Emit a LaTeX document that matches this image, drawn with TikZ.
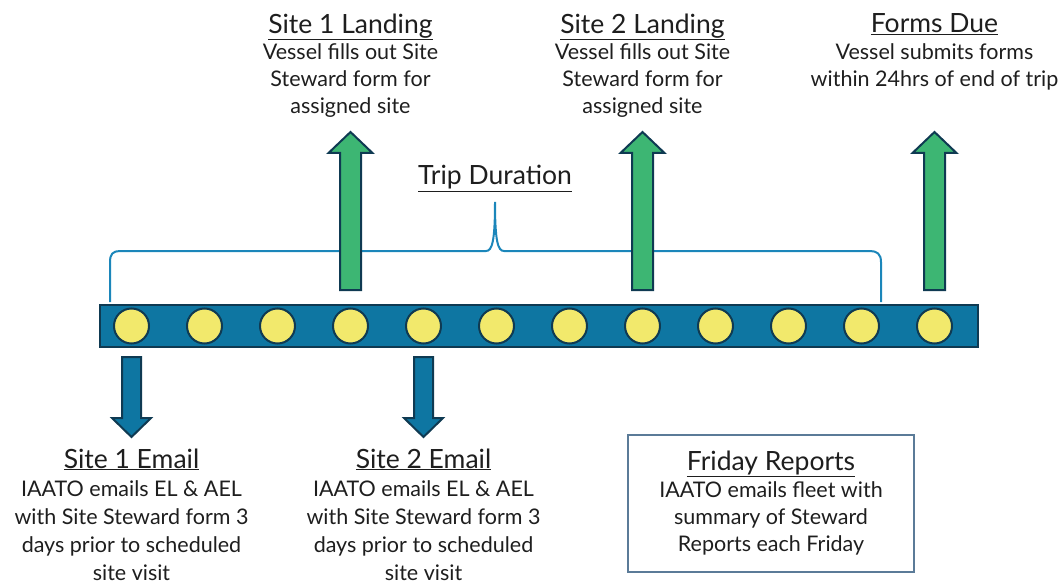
\documentclass[tikz,border=0pt]{standalone}
\usepackage{fontspec}
\setmainfont{Lato}
\usetikzlibrary{calc}
\definecolor{barblue}{HTML}{0E76A2}
\definecolor{navy}{HTML}{0F3A52}
\definecolor{dotyellow}{HTML}{F2E96C}
\definecolor{leafgreen}{HTML}{3DB673}
\definecolor{braceblue}{HTML}{1B86BA}
\definecolor{boxedge}{HTML}{5B7B98}
\definecolor{ink}{HTML}{1E1E1E}
\newcommand{\headline}[1]{{\fontsize{26.5}{27}\selectfont\underline{#1}}}
\begin{document}
\begin{tikzpicture}[x=1pt,y=-1pt,
  dot/.style={circle,draw=navy,line width=2pt,fill=dotyellow,minimum size=35pt,inner sep=0pt},
  timeline/.style={rectangle,draw=navy,line width=2pt,fill=barblue,minimum width=878pt,minimum height=42pt,inner sep=0pt},
  % multi-line labels are anchored at the baseline of their last line
  toptext/.style={align=center,text=ink,inner sep=0pt,anchor=base,font=\fontsize{21.5}{27}\selectfont},
  bottext/.style={align=center,text=ink,inner sep=0pt,anchor=base,font=\fontsize{21.5}{28}\selectfont},
  uparrow/.pic={\draw[navy,line width=2pt,fill=leafgreen,line join=miter]
     (-10.5,0) -- (-10.5,-137) -- (-22,-137) -- (0,-158) -- (22,-137) -- (10.5,-137) -- (10.5,0) -- cycle;},
  downarrow/.pic={\draw[navy,line width=2pt,fill=barblue,line join=miter]
     (-9.5,0) -- (-9.5,61) -- (-19.5,61) -- (0,80) -- (19.5,61) -- (9.5,61) -- (9.5,0) -- cycle;}
]
\useasboundingbox (0,0) rectangle (1061,583);

% timeline bar and its stops
\node[timeline] (bar) at (539,326) {};
\foreach \i in {1,...,12}
  \node[dot] (c\i) at ({131.5+73*(\i-1)},326) {};

% trip duration brace
\draw[braceblue,line width=2pt]
  (110,302) -- (110,262) .. controls (110,254) and (113,251) .. (120,251)
  -- (486,251) .. controls (492,251) and (495,242) .. (495,202)
  .. controls (495,242) and (498,251) .. (504,251)
  -- (870,251) .. controls (877,251) and (881,254) .. (881,262) -- (881,302);
\node[toptext] (trip) at (495,185) {\headline{Trip Duration}};

% events above the timeline
\pic at ($(c4.center)+(0,-36)$) {uparrow};
\pic at ($(c8.center)+(0,-36)$) {uparrow};
\pic at ($(c12.center)+(0,-36)$) {uparrow};

\node[toptext] (land1) at ($(c4.center |- 0,114)$)
  {\headline{Site 1 Landing}\\Vessel fills out Site\\Steward form for\\assigned site};
\node[toptext] (land2) at ($(c8.center |- 0,114)$)
  {\headline{Site 2 Landing}\\Vessel fills out Site\\Steward form for\\assigned site};
\node[toptext] (due) at ($(c12.center |- 0,87)$)
  {\headline{Forms Due}\\Vessel submits forms\\within 24hrs of end of trip};

% events below the timeline
\pic at ($(c1.center)+(0,31)$) {downarrow};
\pic at ($(c5.center)+(0,31)$) {downarrow};

\node[bottext] (mail1) at ($(c1.center |- 0,580)$)
  {\headline{Site 1 Email}\\IAATO emails EL \& AEL\\with Site Steward form 3\\days prior to scheduled\\site visit};
\node[bottext] (mail2) at ($(c5.center |- 0,580)$)
  {\headline{Site 2 Email}\\IAATO emails EL \& AEL\\with Site Steward form 3\\days prior to scheduled\\site visit};

% weekly report box
\node[draw=boxedge,line width=1.5pt,minimum width=286pt,minimum height=137pt,inner sep=0pt] (friday) at (771,503.5) {};
\node[toptext] (fritext) at (771,551)
  {\headline{Friday Reports}\\IAATO emails fleet with\\summary of Steward\\Reports each Friday};
\end{tikzpicture}
\end{document}
